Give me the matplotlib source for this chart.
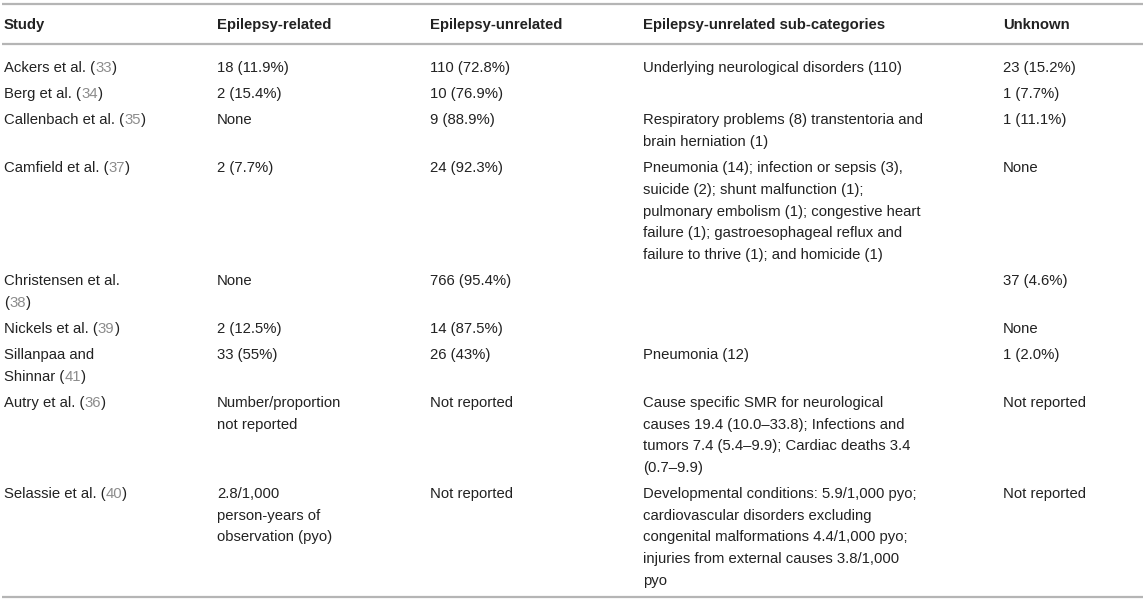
import matplotlib
matplotlib.use("Agg")
import matplotlib.pyplot as plt

plt.rcParams["font.family"] = ["Liberation Sans", "DejaVu Sans"]

# table content
headers = ["Study", "Epilepsy-related", "Epilepsy-unrelated",
           "Epilepsy-unrelated sub-categories", "Unknown"]

study_names = ["Ackers et al. ", "Berg et al. ", "Callenbach et al. ",
               "Camfield et al. ", "Christensen et al.\n", "Nickels et al. ",
               "Sillanpaa and\nShinnar ", "Autry et al. ", "Selassie et al. "]
study_refs = ["33", "34", "35", "37", "38", "39", "41", "36", "40"]

related = ["18 (11.9%)", "2 (15.4%)", "None", "2 (7.7%)", "None", "2 (12.5%)",
           "33 (55%)", "Number/proportion\nnot reported",
           "2.8/1,000\nperson-years of\nobservation (pyo)"]

unrelated = ["110 (72.8%)", "10 (76.9%)", "9 (88.9%)", "24 (92.3%)",
             "766 (95.4%)", "14 (87.5%)", "26 (43%)", "Not reported",
             "Not reported"]

subcats = [
    "Underlying neurological disorders (110)",
    "",
    "Respiratory problems (8) transtentoria and\nbrain herniation (1)",
    "Pneumonia (14); infection or sepsis (3),\nsuicide (2); shunt malfunction (1);\n"
    "pulmonary embolism (1); congestive heart\nfailure (1); gastroesophageal reflux and\n"
    "failure to thrive (1); and homicide (1)",
    "",
    "",
    "Pneumonia (12)",
    "Cause specific SMR for neurological\ncauses 19.4 (10.0\u201333.8); Infections and\n"
    "tumors 7.4 (5.4\u20139.9); Cardiac deaths 3.4\n(0.7\u20139.9)",
    "Developmental conditions: 5.9/1,000 pyo;\ncardiovascular disorders excluding\n"
    "congenital malformations 4.4/1,000 pyo;\ninjuries from external causes 3.8/1,000\npyo",
]

unknown = ["23 (15.2%)", "1 (7.7%)", "1 (11.1%)", "None", "37 (4.6%)", "None",
           "1 (2.0%)", "Not reported", "Not reported"]

W, H = 1147, 603
col_x = [4, 217, 430, 643, 1003]
line_h = 21.7
row_pad = 4.4
base_off = 5.2   # baseline sits this far below the visual line centre
fs = 10.7
txt_col = "#222222"
ref_col = "#8c8c8c"
rule_col = "#b5b5b5"

fig = plt.figure(figsize=(W / 100, H / 100), dpi=100)
ax = fig.add_axes([0, 0, 1, 1])
ax.set_xlim(0, W)
ax.set_ylim(H, 0)
ax.axis("off")

for y in (3.5, 44, 597):
    ax.plot([2, 1143], [y, y], color=rule_col, lw=1.6, solid_capstyle="butt")

for x, h in zip(col_x, headers):
    ax.text(x, 23.5 + base_off, h, fontsize=fs, fontweight="bold",
            color=txt_col, va="baseline")

renderer = fig.canvas.get_renderer()


def put_pieces(x, y, pieces):
    # draw consecutive text pieces on one line, each with its own colour
    for s, c in pieces:
        if not s:
            continue
        t = ax.text(x, y, s, fontsize=fs, color=c, va="baseline")
        bb = t.get_window_extent(renderer=renderer)
        x += bb.width


y0 = 67
for i in range(len(study_names)):
    cells = [related[i], unrelated[i], subcats[i], unknown[i]]
    name_lines = study_names[i].split("\n")
    n = max([len(name_lines)] + [len(c.split("\n")) for c in cells])
    for k, ln in enumerate(name_lines[:-1]):
        ax.text(col_x[0], y0 + k * line_h + base_off, ln, fontsize=fs,
                color=txt_col, va="baseline")
    last = len(name_lines) - 1
    put_pieces(col_x[0], y0 + last * line_h + base_off,
               [(name_lines[-1] + "(", txt_col), (study_refs[i], ref_col), (")", txt_col)])
    for x, c in zip(col_x[1:], cells):
        for k, ln in enumerate(c.split("\n")):
            if ln:
                ax.text(x, y0 + k * line_h + base_off, ln, fontsize=fs,
                        color=txt_col, va="baseline")
    y0 += n * line_h + row_pad

fig.savefig("out.png", dpi=100)
